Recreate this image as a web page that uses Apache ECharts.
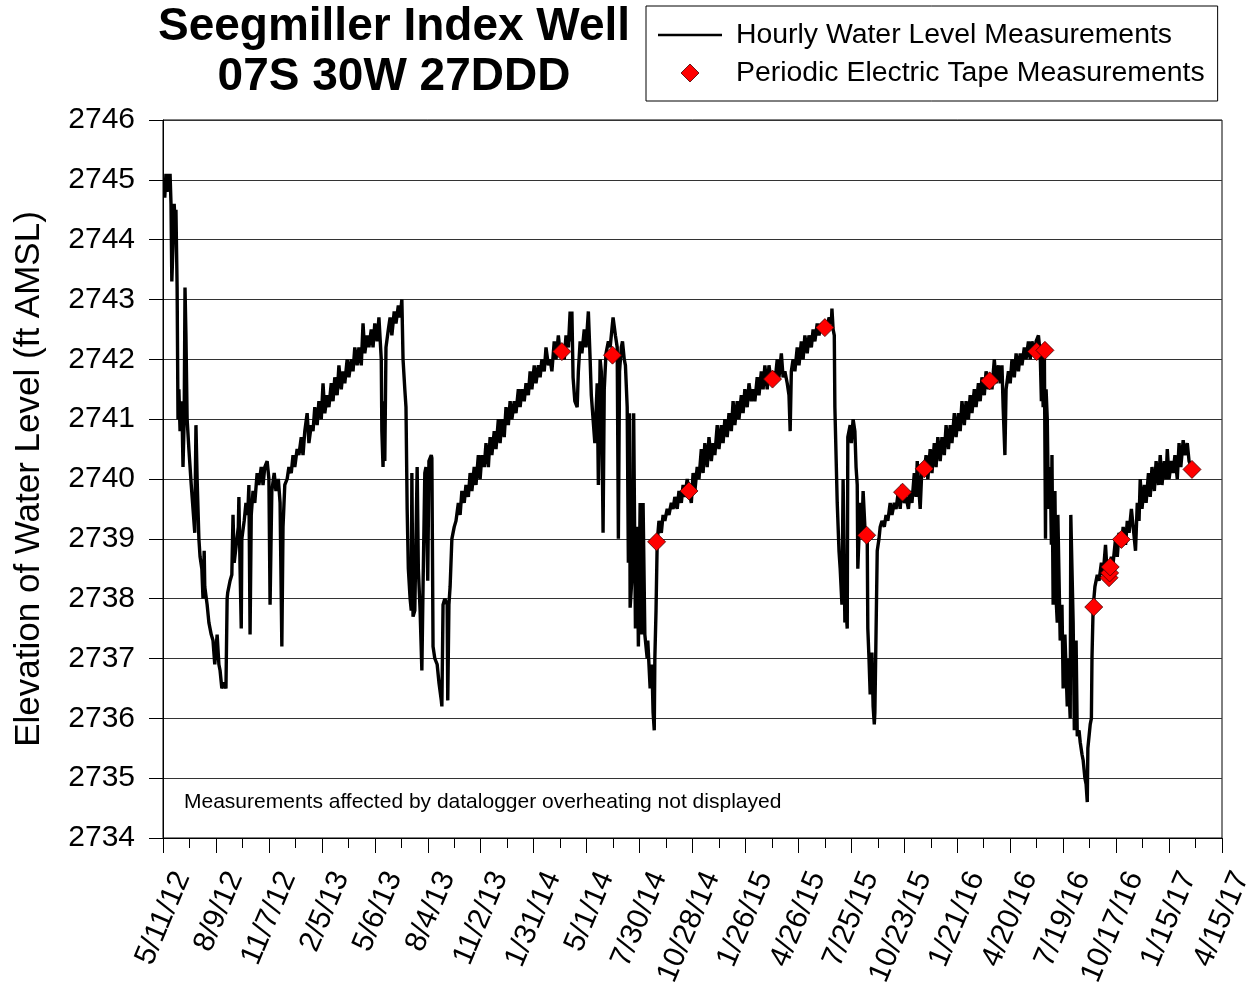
<!DOCTYPE html>
<html>
<head>
<meta charset="utf-8">
<script src="https://cdn.jsdelivr.net/npm/echarts@6/dist/echarts.min.js"></script>
<style>
html,body{margin:0;padding:0;background:#fff;}
#chart{width:1253px;height:993px;}
</style>
</head>
<body>
<div id="chart"></div>
<script>
// Start date of the x axis; x values are days since this date
var startDate = [2012, 5, 11];
var xTickDays = 90;
var xMaxDays = 1800;
var yMin = 2734, yMax = 2746, yStep = 1;

var titleLines = ['Seegmiller Index Well', '07S 30W 27DDD'];
var seriesNames = ['Hourly Water Level Measurements', 'Periodic Electric Tape Measurements'];
var yAxisTitle = 'Elevation of Water Level (ft AMSL)';
var noteText = 'Measurements affected by datalogger overheating not displayed';

// Hourly water level: [days since 5/11/12, elevation ft]
var hourlyLevels = [
[3,2744.7],[5,2745.1],[7,2744.8],[8.5,2745.1],[10,2744.9],[12,2745.1],[13.6,2744.6],[15,2743.3],[17,2743.9],[19,2744.6],
[20,2744.4],[22,2744.5],[24,2743.2],[25.5,2741.0],[27,2741.5],[29,2740.8],[32,2741.3],[34,2740.2],[36,2741.0],[37.4,2743.2],
[39,2742.4],[41,2741.0],[44,2740.5],[48,2739.9],[51,2739.5],[54,2739.1],[56,2740.9],[58,2740.0],[61,2739.0],[63,2738.7],
[66,2738.5],[68,2738.0],[70,2738.8],[71,2738.2],[75,2737.9],[78,2737.6],[82,2737.4],[85,2737.3],[88,2736.9],[92,2737.4],
[95,2736.9],[97,2736.8],[100,2736.5],[104,2736.6],[107,2736.5],[109,2738.0],[110,2738.1],[114,2738.3],[117,2738.4],[119,2739.4],
[121,2738.6],[124,2738.6],[128,2739.2],[129,2739.7],[131,2738.5],[133,2737.5],[134,2739.0],[138,2739.3],[141,2739.6],[144,2739.4],
[146,2739.9],[148,2737.4],[150,2739.4],[153,2739.8],[156,2739.6],[160,2740.1],[163,2739.9],[167,2740.2],[170,2739.9],[173,2740.2],
[177,2740.3],[180,2740.0],[182,2737.9],[184,2739.2],[185,2739.8],[189,2740.1],[192,2739.8],[196,2740.0],[199,2739.6],[202,2737.2],
[204,2739.2],[207,2739.9],[211,2740.0],[214,2740.2],[218,2740.1],[221,2740.4],[224,2740.2],[228,2740.5],[231,2740.4],[235,2740.7],
[238,2740.4],[241,2740.8],[245,2741.1],[248,2740.6],[252,2740.9],[255,2740.8],[258,2741.2],[262,2740.9],[265,2741.3],[269,2741.0],
[272,2741.6],[275,2741.1],[279,2741.4],[282,2741.2],[286,2741.6],[289,2741.3],[292,2741.7],[296,2741.4],[299,2741.9],[303,2741.5],
[306,2741.8],[309,2741.6],[313,2742.0],[316,2741.7],[320,2742.0],[323,2741.8],[326,2742.2],[330,2741.9],[333,2742.2],[337,2741.9],
[340,2742.6],[343,2742.1],[347,2742.4],[350,2742.2],[354,2742.5],[357,2742.2],[360,2742.6],[364,2742.3],[367,2742.7],[371,2742.0],
[372,2740.8],[374,2740.2],[376,2741.3],[377,2740.3],[379,2742.2],[383,2742.5],[386,2742.7],[389,2742.4],[393,2742.8],[396,2742.6],
[400,2742.9],[403,2742.7],[406,2743.0],[408,2742.0],[411,2741.5],[413,2741.2],[415,2739.5],[417,2738.5],[420,2738.0],[422,2737.8],
[423,2740.1],[425,2737.7],[428,2737.8],[432,2740.2],[434,2738.5],[437,2737.8],[440,2736.8],[442,2738.2],[445,2740.1],[447,2740.2],
[450,2738.3],[452,2740.3],[456,2740.4],[457,2740.35],[459,2737.2],[462,2737.0],[466,2736.9],[469,2736.6],[473,2736.3],[474,2736.2],
[476,2737.9],[479,2738.0],[483,2737.9],[484,2736.3],[486,2737.9],[488,2738.2],[491,2739.0],[495,2739.2],[498,2739.3],[502,2739.6],
[505,2739.4],[508,2739.8],[512,2739.6],[515,2739.9],[519,2739.7],[522,2740.1],[525,2739.8],[529,2740.2],[532,2739.9],[536,2740.4],
[539,2740.0],[542,2740.4],[546,2740.2],[549,2740.6],[553,2740.2],[556,2740.7],[559,2740.4],[563,2740.8],[566,2740.5],[570,2741.0],
[573,2740.6],[576,2741.0],[580,2740.7],[583,2741.2],[587,2740.9],[590,2741.3],[593,2741.0],[597,2741.3],[600,2741.1],[604,2741.5],
[607,2741.2],[610,2741.5],[614,2741.3],[617,2741.6],[621,2741.4],[624,2741.8],[627,2741.5],[631,2741.9],[634,2741.6],[638,2741.9],
[641,2741.7],[644,2742.0],[648,2741.8],[651,2742.2],[655,2741.9],[658,2742.0],[661,2741.8],[665,2742.3],[668,2742.0],[672,2742.4],
[675,2742.1],[678,2742.2],[682,2742.0],[685,2742.4],[689,2742.2],[692,2742.8],[694,2742.3],[695,2742.8],[697,2741.7],[700,2741.3],
[704,2741.2],[706,2741.8],[709,2742.3],[712,2742.1],[716,2742.5],[719,2742.2],[723,2742.8],[726,2742.0],[728,2741.4],[731,2741.0],
[734,2740.6],[738,2741.6],[740,2739.9],[743,2742.0],[745,2741.8],[748,2739.1],[750,2741.5],[753,2742.1],[757,2742.3],[760,2742.2],
[763,2742.5],[765,2742.7],[769,2742.4],[772,2742.2],[774,2739.0],[776,2741.8],[779,2742.2],[781,2742.3],[784,2742.0],[786,2741.9],
[789,2741.2],[791,2738.6],[793,2741.1],[794,2737.85],[798,2738.5],[800,2741.1],[803,2737.5],[806,2739.2],[808,2737.2],[811,2739.6],
[814,2737.4],[816,2739.6],[819,2737.4],[823,2737.0],[824,2737.3],[828,2736.5],[831,2736.9],[833,2736.1],[835,2735.8],[836,2737.0],
[838,2737.8],[840,2738.95],[843,2739.3],[847,2739.1],[850,2739.4],[853,2739.3],[857,2739.5],[860,2739.4],[864,2739.6],[867,2739.5],
[870,2739.7],[874,2739.5],[877,2739.8],[881,2739.6],[884,2739.9],[887,2739.7],[891,2740.0],[894,2739.8],[898,2739.6],[901,2740.1],
[904,2739.8],[908,2740.2],[911,2740.0],[915,2740.5],[918,2740.1],[921,2740.6],[925,2740.2],[928,2740.7],[932,2740.3],[935,2740.6],
[938,2740.4],[942,2740.9],[945,2740.5],[949,2740.9],[952,2740.6],[955,2741.0],[959,2740.7],[962,2741.1],[966,2740.8],[969,2741.3],
[972,2740.9],[976,2741.3],[979,2741.0],[983,2741.4],[986,2741.1],[989,2741.5],[993,2741.2],[996,2741.6],[1000,2741.3],[1003,2741.5],
[1006,2741.3],[1010,2741.7],[1013,2741.4],[1017,2741.8],[1020,2741.5],[1023,2741.9],[1027,2741.5],[1030,2741.9],[1034,2741.6],[1037,2741.8],
[1040,2741.6],[1044,2742.0],[1047,2741.7],[1051,2742.1],[1054,2741.7],[1057,2741.8],[1061,2741.6],[1064,2741.4],[1066,2740.8],[1068,2741.8],
[1071,2742.0],[1074,2741.8],[1078,2742.2],[1081,2741.9],[1085,2742.3],[1088,2742.0],[1091,2742.4],[1095,2742.1],[1098,2742.4],[1102,2742.2],
[1105,2742.5],[1108,2742.3],[1112,2742.6],[1115,2742.4],[1119,2742.6],[1122,2742.5],[1125,2742.6],[1129,2742.5],[1132,2742.7],[1136,2742.6],
[1137,2742.85],[1139,2742.5],[1141,2742.4],[1142,2741.2],[1146,2739.6],[1149,2738.8],[1151,2738.5],[1153,2738.1],[1154,2737.9],[1156,2740.0],
[1159,2737.6],[1161,2737.8],[1163,2737.5],[1164,2740.7],[1168,2740.9],[1170,2740.6],[1173,2741.0],[1176,2740.8],[1178,2740.2],[1180,2739.9],
[1181,2738.5],[1185,2739.6],[1188,2739.1],[1190,2739.8],[1193,2739.2],[1197,2739.0],[1198,2737.5],[1200,2737.0],[1202,2736.4],[1204,2736.7],
[1205,2737.1],[1207,2736.2],[1209,2735.9],[1210,2736.1],[1212,2736.1],[1214,2738.8],[1217,2739.0],[1219,2739.2],[1222,2739.3],[1226,2739.2],
[1229,2739.4],[1232,2739.3],[1236,2739.6],[1239,2739.4],[1243,2739.6],[1246,2739.5],[1250,2739.8],[1253,2739.5],[1256,2739.9],[1260,2739.6],
[1263,2739.7],[1267,2739.5],[1270,2739.8],[1273,2739.6],[1277,2740.1],[1280,2739.7],[1282,2740.3],[1285,2739.8],[1287,2739.5],[1290,2740.2],
[1294,2740.1],[1297,2740.4],[1300,2740.0],[1304,2740.5],[1307,2740.1],[1311,2740.6],[1314,2740.2],[1317,2740.7],[1321,2740.3],[1324,2740.7],
[1328,2740.4],[1331,2740.9],[1335,2740.5],[1338,2740.9],[1341,2740.6],[1345,2741.1],[1348,2740.7],[1352,2741.1],[1355,2740.8],[1358,2741.3],
[1362,2740.9],[1365,2741.3],[1369,2741.0],[1372,2741.4],[1375,2741.1],[1379,2741.5],[1382,2741.2],[1386,2741.6],[1389,2741.3],[1392,2741.7],
[1396,2741.4],[1399,2741.8],[1403,2741.5],[1406,2741.7],[1409,2741.5],[1413,2742.0],[1416,2741.6],[1420,2741.9],[1423,2741.6],[1426,2741.9],
[1428,2741.2],[1431,2740.4],[1433,2741.5],[1437,2741.8],[1440,2741.6],[1443,2742.0],[1447,2741.7],[1450,2742.1],[1454,2741.8],[1457,2742.1],
[1460,2741.9],[1464,2742.2],[1467,2742.0],[1471,2742.3],[1474,2742.0],[1477,2742.3],[1481,2742.1],[1484,2742.3],[1488,2742.4],[1491,2742.1],
[1493,2741.3],[1494,2742.2],[1496,2741.2],[1498,2742.2],[1500,2739.0],[1501,2741.5],[1503,2741.0],[1505,2739.5],[1508,2740.2],[1510,2738.9],
[1511,2740.4],[1513,2737.9],[1516,2739.8],[1518,2738.0],[1520,2737.6],[1521,2739.4],[1525,2737.3],[1528,2737.9],[1530,2736.5],[1533,2737.4],
[1537,2736.2],[1538,2737.0],[1542,2736.0],[1543,2739.4],[1545,2738.5],[1547,2737.6],[1549,2735.8],[1552,2737.3],[1554,2735.7],[1557,2735.8],
[1559,2735.6],[1562,2735.4],[1564,2735.3],[1567,2735.0],[1569,2734.9],[1571,2734.6],[1572,2735.5],[1576,2735.9],[1578,2736.0],[1579,2737.0],
[1581,2737.86],[1584,2738.2],[1588,2738.4],[1591,2738.3],[1595,2738.6],[1598,2738.4],[1602,2738.9],[1605,2738.4],[1608,2738.5],[1612,2738.7],
[1615,2738.6],[1619,2739.0],[1622,2738.7],[1625,2739.1],[1629,2738.9],[1632,2739.2],[1636,2738.9],[1639,2739.3],[1642,2739.1],[1646,2739.5],
[1649,2739.2],[1653,2738.8],[1656,2739.6],[1659,2739.3],[1661,2740.0],[1664,2739.5],[1668,2739.9],[1671,2739.6],[1675,2740.1],[1678,2739.7],
[1681,2740.2],[1685,2739.8],[1688,2740.3],[1692,2739.9],[1695,2740.4],[1698,2739.9],[1702,2740.3],[1705,2740.0],[1707,2740.5],[1710,2740.0],
[1714,2740.3],[1717,2740.1],[1720,2740.4],[1724,2740.0],[1727,2740.6],[1730,2740.2],[1734,2740.65],[1737,2740.4],[1741,2740.6],[1744,2740.3],
[1748,2740.2]
];

// Periodic electric tape measurements: days since 5/11/12 and elevation ft
var tapeDays   = [678, 764, 839, 894, 1036, 1125, 1196, 1257, 1294, 1405, 1485, 1499, 1582, 1608, 1609, 1610, 1629, 1749];
var tapeLevels = [2742.13, 2742.07, 2738.95, 2739.80, 2741.67, 2742.53, 2739.06, 2739.78, 2740.17, 2741.64, 2742.13, 2742.15, 2737.86, 2738.35, 2738.43, 2738.53, 2738.99, 2740.16];

var FONT = '"Liberation Sans", Arial, sans-serif';
var startMs = Date.UTC(startDate[0], startDate[1] - 1, startDate[2]);
function dayLabel(v) {
  var d = new Date(startMs + Math.round(v) * 86400000);
  return (d.getUTCMonth() + 1) + '/' + d.getUTCDate() + '/' + String(d.getUTCFullYear()).slice(2);
}
var tapeData = tapeDays.map(function (d, i) { return [d, tapeLevels[i]]; });

var chart = echarts.init(document.getElementById('chart'), null, {renderer: 'canvas'});
chart.setOption({
  animation: false,
  backgroundColor: '#fff',
  textStyle: {fontFamily: FONT, color: '#000'},
  grid: {left: 163, right: 31, top: 120, bottom: 155, show: true, borderColor: '#000', borderWidth: 1, outerBoundsMode: 'none', containLabel: false},
  graphic: [
    {type: 'text', x: 394, y: 27, z: 10, style: {text: titleLines[0], font: 'bold 46px ' + FONT, fill: '#000', align: 'center', verticalAlign: 'middle', textAlign: 'center', textVerticalAlign: 'middle'}},
    {type: 'text', x: 394, y: 77, z: 10, style: {text: titleLines[1], font: 'bold 46px ' + FONT, fill: '#000', align: 'center', verticalAlign: 'middle', textAlign: 'center', textVerticalAlign: 'middle'}},
    {type: 'text', x: 184, y: 802, z: 10, style: {text: noteText, font: '21px ' + FONT, fill: '#000', align: 'left', verticalAlign: 'middle', textAlign: 'left', textVerticalAlign: 'middle'}}
  ],
  legend: {
    orient: 'vertical', left: 646, top: 6,
    padding: [15, 13, 14, 12], itemGap: 10, itemWidth: 64, itemHeight: 18,
    borderColor: '#000', borderWidth: 1, borderRadius: 0, backgroundColor: '#fff',
    symbolKeepAspect: true,
    textStyle: {fontSize: 28.4, fontFamily: FONT, color: '#000', padding: [0, 0, 0, 9]},
    data: [
      {name: seriesNames[0], icon: 'path://M0,0L64,0L64,2.6L0,2.6Z', itemStyle: {color: '#000'}},
      {name: seriesNames[1], icon: 'path://M9,0L18,9L9,18L0,9Z', itemStyle: {color: '#ff0000', borderColor: '#400', borderWidth: 0.8}}
    ]
  },
  xAxis: {
    type: 'value', min: 0, max: xMaxDays, interval: xTickDays,
    axisLine: {show: true, lineStyle: {color: '#000', width: 1}},
    axisTick: {show: true, inside: false, length: 15, lineStyle: {color: '#000'}},
    minorTick: {show: true, splitNumber: 2, length: 10, lineStyle: {color: '#000'}},
    splitLine: {show: false},
    axisLabel: {rotate: 67, fontSize: 30, lineHeight: 42, fontFamily: FONT, color: '#000', margin: 27, align: 'right', verticalAlign: 'top', formatter: dayLabel, hideOverlap: false, showMinLabel: true, showMaxLabel: true}
  },
  yAxis: {
    type: 'value', min: yMin, max: yMax, interval: yStep,
    name: yAxisTitle, nameLocation: 'middle', nameGap: 116,
    nameTextStyle: {fontSize: 35, fontFamily: FONT, color: '#000'},
    axisLine: {show: true, lineStyle: {color: '#000', width: 1}},
    axisTick: {show: true, inside: false, length: 14, lineStyle: {color: '#000'}},
    splitLine: {show: true, lineStyle: {color: '#333', width: 1.2}},
    axisLabel: {fontSize: 30, fontFamily: FONT, color: '#000', margin: 28, formatter: function (v) { return String(v); }}
  },
  series: [
    {
      name: seriesNames[0], type: 'line', data: hourlyLevels,
      symbol: 'none', showSymbol: false, sampling: null, smooth: false,
      lineStyle: {color: '#000', width: 3.4}, itemStyle: {color: '#000'}, z: 2
    },
    {
      name: seriesNames[1], type: 'scatter', data: tapeData,
      symbol: 'diamond', symbolSize: 18,
      itemStyle: {color: '#ff0000', borderColor: '#400', borderWidth: 0.8, opacity: 1}, z: 3
    }
  ]
});
</script>
</body>
</html>
